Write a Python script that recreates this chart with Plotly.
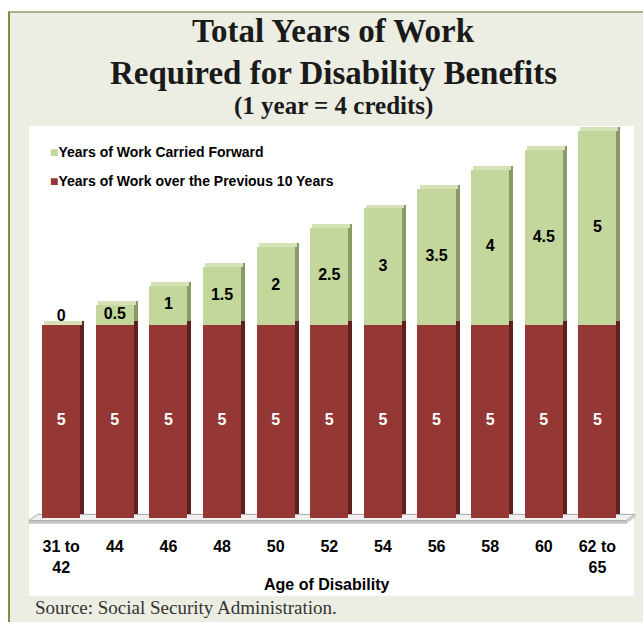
import plotly.graph_objects as go

# ---------------- data ----------------
categories = ["31 to<br>42", "44", "46", "48", "50", "52", "54", "56", "58", "60", "62 to<br>65"]
previous_10_years = [5, 5, 5, 5, 5, 5, 5, 5, 5, 5, 5]
carried_forward = [0, 0.5, 1, 1.5, 2, 2.5, 3, 3.5, 4, 4.5, 5]
carried_labels = ["0", "0.5", "1", "1.5", "2", "2.5", "3", "3.5", "4", "4.5", "5"]
previous_labels = ["5"] * 11

name_green = "Years of Work Carried Forward"
name_red = "Years of Work over the Previous 10 Years"

# ---------------- style ----------------
W, H = 643, 622
ML, MR, MT, MB = 29, 7, 125, 96
PW, PH = W - ML - MR, H - MT - MB

RED = "#953735"
RED_SIDE = "#5e2120"
GREEN = "#c3d69b"
GREEN_SIDE = "#8a9a66"
TOP_FACE = "#d5e2b6"
BG = "#eceee4"

BAR_W = 0.71
DX = 0.075   # depth in category units
DY = 0.10    # depth in value units

SANS = "Liberation Sans, Arial, sans-serif"
SERIF = "Liberation Serif, Times New Roman, serif"


def px_x(px):
    return (px - ML) / PW


def px_y(py):
    return (H - MB - py) / PH


totals = [a + b for a, b in zip(previous_10_years, carried_forward)]

fig = go.Figure()

# back (side) faces
fig.add_trace(go.Bar(x=categories, y=previous_10_years, base=[DY] * 11,
                     width=BAR_W, offset=-BAR_W / 2 + DX,
                     marker=dict(color=RED_SIDE, line=dict(width=0)),
                     showlegend=False, hoverinfo="skip"))
fig.add_trace(go.Bar(x=categories, y=carried_forward, base=[p + DY for p in previous_10_years],
                     width=BAR_W, offset=-BAR_W / 2 + DX,
                     marker=dict(color=GREEN_SIDE, line=dict(width=0)),
                     showlegend=False, hoverinfo="skip"))
# top faces
fig.add_trace(go.Bar(x=categories, y=[DY] * 11, base=totals,
                     width=BAR_W, offset=-BAR_W / 2 + DX / 2,
                     marker=dict(color=TOP_FACE, line=dict(width=0)),
                     showlegend=False, hoverinfo="skip"))
# front faces
fig.add_trace(go.Bar(x=categories, y=previous_10_years, base=[0] * 11, name=name_red,
                     width=BAR_W, offset=-BAR_W / 2,
                     marker=dict(color=RED, line=dict(width=0)),
                     showlegend=False))
fig.add_trace(go.Bar(x=categories, y=carried_forward, base=previous_10_years, name=name_green,
                     width=BAR_W, offset=-BAR_W / 2,
                     marker=dict(color=GREEN, line=dict(width=0)),
                     showlegend=False))

# value labels
fig.add_trace(go.Scatter(x=categories, y=[p / 2 for p in previous_10_years], mode="text",
                         text=previous_labels,
                         textfont=dict(family=SANS, size=16, color="white", weight="bold"),
                         showlegend=False, hoverinfo="skip"))
fig.add_trace(go.Scatter(x=categories,
                         y=[p + max(c, 0.4) / 2 for p, c in zip(previous_10_years, carried_forward)],
                         mode="text", text=carried_labels,
                         textfont=dict(family=SANS, size=16, color="black", weight="bold"),
                         showlegend=False, hoverinfo="skip"))

shapes = []
# outer panel
shapes.append(dict(type="rect", xref="paper", yref="paper", layer="below",
                   x0=px_x(8), x1=px_x(660), y0=px_y(640), y1=px_y(12),
                   fillcolor=BG, line=dict(width=0)))
shapes.append(dict(type="line", xref="paper", yref="paper", layer="below",
                   x0=px_x(8), x1=px_x(660), y0=px_y(12), y1=px_y(12),
                   line=dict(color="#a9b38b", width=2)))
shapes.append(dict(type="line", xref="paper", yref="paper", layer="below",
                   x0=px_x(9), x1=px_x(9), y0=px_y(12), y1=px_y(640),
                   line=dict(color="#7f8f3a", width=2)))
# white chart area
shapes.append(dict(type="rect", xref="paper", yref="paper", layer="below",
                   x0=px_x(29), x1=px_x(634), y0=px_y(596), y1=px_y(126),
                   fillcolor="white", line=dict(width=0)))
# floor
shapes.append(dict(type="path", xref="paper", yref="y", layer="below",
                   path="M 0.014,0.1 L 0.998,0.1 L 0.984,-0.06 L 0.0,-0.06 Z",
                   fillcolor="#f0f0f0", line=dict(color="#a6a6a6", width=1)))
shapes.append(dict(type="path", xref="paper", yref="y", layer="below",
                   path="M 0.0,-0.06 L 0.984,-0.06 L 0.984,-0.13 L 0.0,-0.13 Z",
                   fillcolor="#c8c8c8", line=dict(color="#a6a6a6", width=0.5)))
shapes.append(dict(type="path", xref="paper", yref="y", layer="below",
                   path="M 0.984,-0.06 L 0.998,0.1 L 0.998,0.03 L 0.984,-0.13 Z",
                   fillcolor="#d9d9d9", line=dict(color="#a6a6a6", width=0.5)))

annotations = [
    dict(text="<b>Total Years of Work</b>", x=px_x(333), y=px_y(31), xref="paper", yref="paper",
         showarrow=False, xanchor="center", yanchor="middle",
         font=dict(family=SERIF, size=33, color="#1a1a1a")),
    dict(text="<b>Required for Disability Benefits</b>", x=px_x(333), y=px_y(73), xref="paper",
         yref="paper", showarrow=False, xanchor="center", yanchor="middle",
         font=dict(family=SERIF, size=33, color="#1a1a1a")),
    dict(text="<b>(1 year = 4 credits)</b>", x=px_x(333), y=px_y(106), xref="paper", yref="paper",
         showarrow=False, xanchor="center", yanchor="middle",
         font=dict(family=SERIF, size=25, color="#1a1a1a")),
    dict(text="<b>Age of Disability</b>", x=px_x(326), y=px_y(584), xref="paper", yref="paper",
         showarrow=False, xanchor="center", yanchor="middle",
         font=dict(family=SANS, size=16, color="black")),
    dict(text="Source: Social Security Administration.", x=px_x(33), y=px_y(607), xref="paper",
         yref="paper", showarrow=False, xanchor="left", yanchor="middle",
         font=dict(family=SERIF, size=19, color="#333333")),
]

# legend (custom, to match the compact swatch + text layout)
legend_entries = [(name_green, GREEN, 152), (name_red, RED, 181)]
for name, color, ypx in legend_entries:
    annotations.append(dict(
        text=f'<span style="color:{color}">■</span><b>{name}</b>',
        x=px_x(48), y=px_y(ypx), xref="paper", yref="paper", showarrow=False,
        xanchor="left", yanchor="middle",
        font=dict(family=SANS, size=14, color="black")))

fig.update_layout(
    width=W, height=H,
    margin=dict(l=ML, r=MR, t=MT, b=MB, pad=0),
    paper_bgcolor="white",
    plot_bgcolor="rgba(0,0,0,0)",
    barmode="overlay",
    bargap=0,
    shapes=shapes,
    annotations=annotations,
    showlegend=False,
    xaxis=dict(type="category", categoryorder="array", categoryarray=categories,
               range=[-0.6, 10.72], showgrid=False, zeroline=False, showline=False,
               ticks="", ticklabelstandoff=9,
               tickfont=dict(family=SANS, size=16, color="black", weight="bold")),
    yaxis=dict(range=[-0.2, 10.155], showgrid=False, zeroline=False, showline=False,
               showticklabels=False, ticks=""),
    hovermode=False,
)

fig.write_html("out.html")
